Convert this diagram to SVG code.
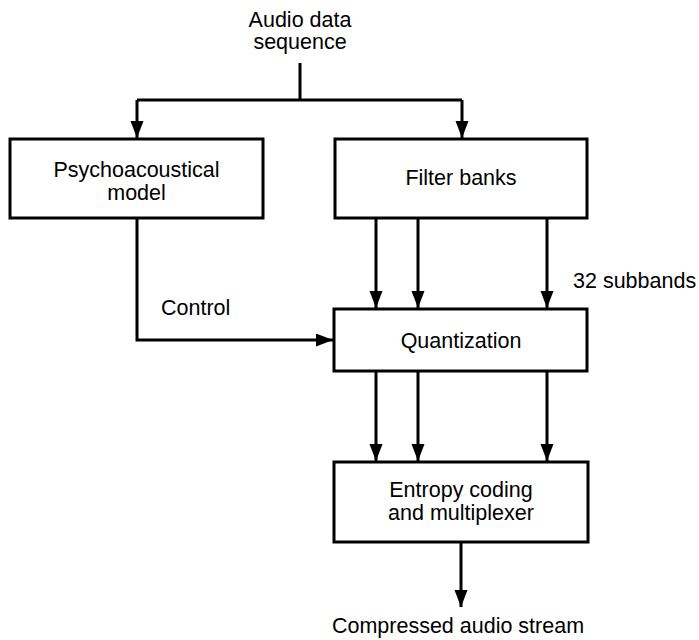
<svg xmlns="http://www.w3.org/2000/svg" width="699" height="640" viewBox="0 0 699 640">
  <style>
    .box { fill: #fff; stroke: #000; stroke-width: 3; }
    .wire { fill: none; stroke: #000; stroke-width: 3; }
    text { font-family: "Liberation Sans", Arial, sans-serif; font-size: 21.5px; fill: #000; }
    .c { text-anchor: middle; }
  </style>
  <defs>
    <marker id="arrow" markerUnits="userSpaceOnUse" markerWidth="18" markerHeight="14" refX="17" refY="6.5" orient="auto">
      <path d="M0,0 L17,6.5 L0,13 Z" fill="#000"/>
    </marker>
  </defs>

  <!-- input label -->
  <text class="c" x="300" y="27">Audio data</text>
  <text class="c" x="300" y="49">sequence</text>

  <g id="connectors">
    <!-- input split -->
    <path class="wire" d="M300,63 V100"/>
    <path class="wire" d="M137,100 H462"/>
    <path class="wire" d="M137,100 V138" marker-end="url(#arrow)"/>
    <path class="wire" d="M462,100 V138" marker-end="url(#arrow)"/>
    <!-- subbands: filter banks to quantization -->
    <path class="wire" d="M376,218 V308" marker-end="url(#arrow)"/>
    <path class="wire" d="M418,218 V308" marker-end="url(#arrow)"/>
    <path class="wire" d="M547,218 V308" marker-end="url(#arrow)"/>
    <!-- control path -->
    <path class="wire" d="M137,218 V340 H333" marker-end="url(#arrow)"/>
    <!-- quantization to entropy coding -->
    <path class="wire" d="M376,371 V461" marker-end="url(#arrow)"/>
    <path class="wire" d="M418,371 V461" marker-end="url(#arrow)"/>
    <path class="wire" d="M547,371 V461" marker-end="url(#arrow)"/>
    <!-- output -->
    <path class="wire" d="M461,542 V607" marker-end="url(#arrow)"/>
  </g>

  <g id="psychoacoustical-model">
    <rect class="box" x="10" y="139" width="253" height="79"/>
    <text class="c" x="136.5" y="177">Psychoacoustical</text>
    <text class="c" x="136.5" y="200">model</text>
  </g>

  <g id="filter-banks">
    <rect class="box" x="335" y="139" width="252" height="79"/>
    <text class="c" x="461" y="185">Filter banks</text>
  </g>

  <g id="quantization">
    <rect class="box" x="334" y="309" width="253" height="62"/>
    <text class="c" x="461" y="348">Quantization</text>
  </g>

  <g id="entropy-coding">
    <rect class="box" x="334" y="462" width="254" height="80"/>
    <text class="c" x="461" y="497">Entropy coding</text>
    <text class="c" x="461" y="520">and multiplexer</text>
  </g>

  <!-- connector labels -->
  <text x="161" y="315">Control</text>
  <text x="573" y="288">32 subbands</text>
  <text class="c" x="458" y="633">Compressed audio stream</text>
</svg>
